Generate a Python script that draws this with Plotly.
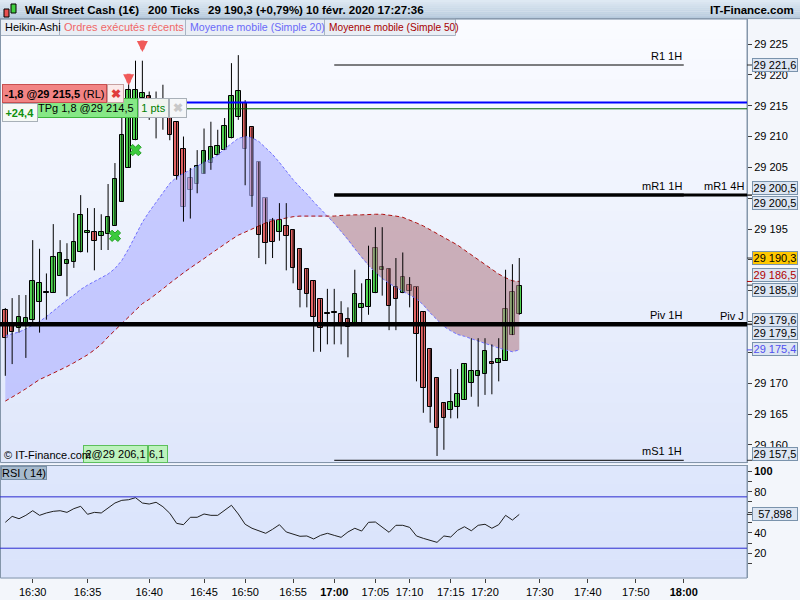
import plotly.graph_objects as go

# ---------------- data ----------------
time_tickvals = [4, 12, 21, 29, 35, 42, 48, 54, 59, 65, 70, 78, 85, 92, 99]
time_ticktext = ["16:30", "16:35", "16:40", "16:45", "16:50", "16:55", "<b>17:00</b>", "17:05",
                 "17:10", "17:15", "17:20", "17:30", "17:40", "17:50", "<b>18:00</b>"]

ha_open = [29181.9, 29179.2, 29178.9, 29179.8, 29180.3, 29183.2, 29184.7, 29184.7, 29187.4, 29189.3,
           29189.6, 29191.2, 29194.3, 29194.5, 29193.8, 29194.2, 29195.5, 29199.4, 29204.9, 29209.4,
           29216.2, 29216.5, 29215.5, 29214.5, 29213.2, 29212.4, 29208.0, 29203.2, 29202.3, 29204.0,
           29205.7, 29207.0, 29207.8, 29209.7, 29213.1, 29215.4, 29211.5, 29205.9, 29200.0, 29196.4,
           29194.6, 29195.5, 29194.9, 29191.7, 29188.5, 29186.6, 29183.6, 29181.2, 29181.4, 29181.3,
           29180.4, 29179.7, 29182.2, 29182.4, 29184.6, 29188.3, 29188.6, 29185.6, 29184.6, 29185.9,
           29185.6, 29181.6, 29175.5, 29170.8, 29166.8, 29165.6, 29166.2, 29167.3, 29170.1, 29171.2,
           29171.5, 29173.4, 29173.2, 29173.6, 29177.8, 29181.3]
ha_close = [29177.3, 29178.3, 29180.7, 29180.5, 29186.6, 29186.2, 29184.7, 29190.4, 29191.1, 29189.9,
            29192.9, 29197.3, 29194.7, 29193.1, 29194.5, 29196.9, 29203.1, 29210.3, 29217.6, 29217.6,
            29217.0, 29215.0, 29213.5, 29213.0, 29210.3, 29203.6, 29198.6, 29201.3, 29205.3, 29207.7,
            29208.3, 29208.5, 29211.7, 29216.5, 29217.4, 29207.9, 29200.3, 29194.0, 29192.7, 29192.9,
            29196.4, 29193.9, 29188.7, 29185.1, 29184.4, 29180.7, 29178.9, 29181.2, 29181.4, 29179.8,
            29179.1, 29184.4, 29182.8, 29186.7, 29192.0, 29188.8, 29182.6, 29183.6, 29187.2, 29185.0,
            29177.9, 29169.2, 29166.2, 29162.7, 29164.3, 29166.9, 29168.2, 29173.1, 29172.0, 29171.9,
            29175.3, 29173.1, 29174.0, 29182.0, 29184.8, 29185.8]
ha_high = [29182.2, 29183.8, 29184.3, 29184.3, 29193.2, 29191.8, 29187.8, 29195.8, 29193.2, 29192.7,
           29197.6, 29200.5, 29198.4, 29198.4, 29197.4, 29202.3, 29205.7, 29213.2, 29220.0, 29222.3,
           29222.3, 29217.3, 29217.3, 29218.4, 29214.0, 29212.4, 29210.0, 29204.9, 29207.8, 29211.3,
           29212.4, 29211.1, 29213.0, 29221.9, 29223.2, 29215.9, 29211.5, 29205.9, 29200.0, 29196.8,
           29199.2, 29199.2, 29194.9, 29191.7, 29188.5, 29186.6, 29183.6, 29185.3, 29185.3, 29183.3,
           29182.3, 29188.4, 29186.2, 29192.3, 29195.3, 29195.3, 29188.6, 29190.3, 29191.2, 29187.2,
           29185.6, 29181.6, 29175.5, 29170.8, 29166.8, 29172.3, 29172.3, 29173.1, 29177.3, 29177.3,
           29177.3, 29176.3, 29177.3, 29188.4, 29189.3, 29190.3]
ha_low = [29171.2, 29173.1, 29178.2, 29174.1, 29179.7, 29178.2, 29180.3, 29184.7, 29187.4, 29184.1,
          29188.7, 29191.2, 29191.2, 29188.3, 29191.6, 29191.6, 29195.5, 29199.4, 29204.9, 29209.4,
          29214.3, 29212.7, 29209.7, 29211.1, 29209.4, 29203.0, 29196.2, 29196.7, 29200.8, 29204.0,
          29204.6, 29207.0, 29207.8, 29209.7, 29212.7, 29202.1, 29198.6, 29190.3, 29189.3, 29190.3,
          29193.1, 29188.3, 29186.2, 29182.3, 29182.3, 29175.1, 29175.1, 29176.3, 29176.3, 29176.3,
          29174.2, 29179.7, 29179.7, 29181.1, 29184.6, 29184.2, 29178.6, 29178.6, 29184.6, 29182.3,
          29170.3, 29165.2, 29163.6, 29158.2, 29159.2, 29164.3, 29164.3, 29167.3, 29167.8, 29166.2,
          29168.1, 29168.2, 29170.3, 29173.6, 29177.8, 29181.1]

sma20 = [29177.7, 29178.0, 29178.3, 29178.8, 29179.4, 29180.0, 29180.8, 29181.7, 29182.7, 29183.5,
         29184.3, 29185.2, 29185.9, 29186.5, 29187.1, 29187.7, 29188.6, 29189.9, 29191.8, 29194.0,
         29196.1, 29197.8, 29199.3, 29200.9, 29202.4, 29203.4, 29204.0, 29204.7, 29205.2, 29205.8,
         29206.3, 29207.0, 29208.0, 29208.8, 29209.7, 29210.0, 29209.8, 29209.2, 29208.2, 29207.1,
         29205.8, 29204.4, 29203.0, 29201.8, 29200.7, 29199.4, 29198.3, 29197.1, 29195.9, 29194.6,
         29193.3, 29191.8, 29190.4, 29189.1, 29188.0, 29187.0, 29186.2, 29185.5, 29184.9, 29184.3,
         29183.7, 29182.7, 29181.4, 29180.3, 29179.2, 29178.5, 29177.9, 29177.6, 29177.2, 29176.9,
         29176.5, 29176.1, 29175.7, 29175.4, 29175.1, 29175.4]
sma50 = [29167.1, 29167.7, 29168.4, 29169.1, 29169.8, 29170.6, 29171.1, 29171.6, 29172.1, 29172.7,
         29173.3, 29173.9, 29174.6, 29175.4, 29176.3, 29177.5, 29178.6, 29179.7, 29180.7, 29181.8,
         29182.9, 29183.6, 29184.4, 29185.3, 29186.2, 29187.1, 29187.9, 29188.7, 29189.4, 29190.2,
         29191.0, 29191.8, 29192.6, 29193.3, 29194.0, 29194.5, 29195.1, 29195.6, 29196.0, 29196.35,
         29196.6, 29196.8, 29197.0, 29197.1, 29197.1, 29197.0, 29197.0, 29197.0, 29197.1, 29197.2,
         29197.3, 29197.3, 29197.3, 29197.4, 29197.4, 29197.4, 29197.3, 29197.1, 29196.9, 29196.5,
         29196.0, 29195.5, 29194.9, 29194.3, 29193.7, 29193.0, 29192.4, 29191.6, 29190.8, 29190.0,
         29189.3, 29188.5, 29187.7, 29187.1, 29186.6, 29186.5]

rsi14 = [50.2, 56.0, 53.7, 57.0, 61.5, 57.0, 59.3, 60.9, 61.5, 59.9,
         63.5, 65.8, 58.0, 59.9, 59.3, 63.8, 69.0, 71.6, 72.2, 74.2,
         69.0, 68.0, 69.7, 65.4, 59.0, 49.2, 47.9, 55.1, 55.1, 58.3,
         57.0, 57.0, 61.5, 66.8, 58.3, 48.3, 44.4, 42.0, 39.5, 43.4,
         47.9, 40.8, 38.5, 36.6, 36.9, 34.0, 37.5, 39.5, 37.5, 35.6,
         40.8, 44.4, 41.7, 50.2, 50.5, 45.5, 40.5, 47.3, 47.3, 45.3,
         36.9, 34.6, 33.0, 30.7, 36.9, 35.9, 42.4, 45.9, 42.0, 47.3,
         48.3, 44.4, 47.9, 57.0, 52.4, 57.9]

# labels hidden behind the value boxes are left blank
price_tickvals = [29160, 29165, 29170, 29175, 29180, 29185, 29190, 29195, 29200, 29205, 29210, 29215, 29220, 29225]
price_ticktext = ["29 160", "29 165", "29 170", "", "", "", "", "29 195",
                  "", "29 205", "29 210", "29 215", "29 220", "29 225"]
rsi_tickvals = [10, 20, 30, 40, 50, 60, 70, 80, 90, 100]
rsi_ticktext = ["", "20", "", "40", "", "", "", "80", "", "<b>100</b>"]
rsi_levels = [75, 25]

level_names = ["R1 1H", "mR1 1H", "mR1 4H", "Piv 1H", "Piv J", "mS1 1H"]
level_values = [29221.6, 29200.5, 29200.5, 29179.6, 29179.5, 29157.5]
order_price = 29215.5
tp_price = 29214.5

sell_idx = [18, 20]
sell_price = [29218.3, 29223.7]
exit_idx = [16, 19]
exit_price = [29193.9, 29207.8]

# axis-box labels: (text, value, pane, text colour, background, y-shift px)
axis_labels = [
    ("29 221,6", 29221.6, "y", "black", None, 0),
    ("29 200,5", 29200.5, "y", "black", None, 7.5),
    ("29 200,5", 29200.5, "y", "black", None, -7.5),
    ("29 190,3", 29190.3, "y", "black", "#FFC800", 0),
    ("29 186,5", 29186.5, "y", "#B00000", None, 6.5),
    ("29 185,9", 29185.9, "y", "black", None, -5),
    ("29 179,6", 29179.6, "y", "black", None, 3.6),
    ("29 179,5", 29179.5, "y", "black", None, -8),
    ("29 175,4", 29175.4, "y", "#5050F0", None, 1),
    ("29 157,5", 29157.5, "y", "black", None, 6.5),
    ("57,898", 57.898, "y2", "black", None, 0),
]

# ---------------- geometry helpers (style only) ----------------
W, H = 800, 600
X0_PX, DX_PX = 5.3, 6.853          # candle 0 pixel and candle spacing
PANE_R = 747
XR = [(0 - X0_PX) / DX_PX, (PANE_R - X0_PX) / DX_PX]
FONT = "Arial, Liberation Sans, sans-serif"


def px(x):
    return x / W


def py(y):
    return 1 - y / H


def blend(c0, c1, t):
    return "rgb(%d,%d,%d)" % tuple(round(a + (b - a) * t) for a, b in zip(c0, c1))


fig = go.Figure()
shapes = []
ann = []

# backgrounds (gradient bands)
n = 44
top, bot = 19, 463
for k in range(n):
    y0 = top + (bot - top) * k / n
    y1 = top + (bot - top) * (k + 1) / n + 0.6
    shapes.append(dict(type="rect", xref="paper", yref="paper", x0=0, x1=px(PANE_R),
                       y0=py(y1), y1=py(y0), line=dict(width=0),
                       fillcolor=blend((250, 251, 255), (223, 231, 251), k / (n - 1)), layer="below"))
for k in range(12):
    y0 = 465 + 113 * k / 12
    y1 = 465 + 113 * (k + 1) / 12 + 0.6
    shapes.append(dict(type="rect", xref="paper", yref="paper", x0=0, x1=px(PANE_R), y0=py(y1), y1=py(y0),
                       line=dict(width=0), fillcolor=blend((222, 231, 252), (218, 227, 251), k / 11),
                       layer="below"))
# header row gradient
for k in range(10):
    shapes.append(dict(type="rect", xref="paper", yref="paper", x0=0, x1=1,
                       y0=py(1.9 * k + 2.1), y1=py(1.9 * k), line=dict(width=0),
                       fillcolor=blend((222, 233, 243), (182, 201, 220), k / 9), layer="below"))
shapes.append(dict(type="line", xref="paper", yref="paper", x0=0, x1=1, y0=py(18.5), y1=py(18.5),
                   line=dict(color="#8C9EB2", width=1), layer="below"))
# tabs
tab_edges = [(0.5, 59.5), (59.5, 185.5), (185.5, 324.5), (324.5, 455.5)]
for a, b in tab_edges:
    shapes.append(dict(type="rect", xref="paper", yref="paper", x0=px(a), x1=px(b), y0=py(35.5), y1=py(19),
                       fillcolor="#E9EEF5", line=dict(color="#A9B5C4", width=1), layer="above"))
# pane borders
shapes.append(dict(type="rect", xref="paper", yref="paper", x0=px(0.5), x1=px(PANE_R), y0=py(462.5), y1=py(19),
                   line=dict(color="#8496AA", width=1), layer="above"))
shapes.append(dict(type="rect", xref="paper", yref="paper", x0=px(0.5), x1=px(PANE_R), y0=py(578), y1=py(465.5),
                   line=dict(color="#8496AA", width=1), layer="above"))

idx = list(range(len(ha_open)))

# MA cloud fills (split where the averages cross)
cross = 47
blue_x = idx[:cross + 1] + idx[:cross + 1][::-1]
blue_y = sma20[:cross + 1] + sma50[:cross + 1][::-1]
red_x = idx[cross:] + idx[cross:][::-1]
red_y = sma50[cross:] + sma20[cross:][::-1]
fig.add_trace(go.Scatter(x=blue_x, y=blue_y, fill="toself", fillcolor="rgba(178,182,255,0.68)",
                         line=dict(width=0), mode="lines", hoverinfo="skip", xaxis="x", yaxis="y"))
fig.add_trace(go.Scatter(x=red_x, y=red_y, fill="toself", fillcolor="rgba(180,130,140,0.6)",
                         line=dict(width=0), mode="lines", hoverinfo="skip", xaxis="x", yaxis="y"))
fig.add_trace(go.Scatter(x=idx, y=sma20, mode="lines", line=dict(color="#7070FF", width=1, dash="3px,2px"),
                         xaxis="x", yaxis="y"))
fig.add_trace(go.Scatter(x=idx, y=sma50, mode="lines", line=dict(color="#B01010", width=1, dash="4px,3px"),
                         xaxis="x", yaxis="y"))

# wicks
wx, wy = [], []
for i in idx:
    wx += [i, i, None]
    wy += [ha_low[i], ha_high[i], None]
fig.add_trace(go.Scatter(x=wx, y=wy, mode="lines", line=dict(color="black", width=1),
                         xaxis="x", yaxis="y", hoverinfo="skip"))
# bodies
base = [min(o, c) for o, c in zip(ha_open, ha_close)]
hgt = [max(abs(c - o), 0.12) for o, c in zip(ha_open, ha_close)]
cols = ["#4FD34F" if c > o else ("#E46464" if c < o else "black") for o, c in zip(ha_open, ha_close)]
fig.add_trace(go.Bar(x=idx, y=hgt, base=base, width=0.66, marker=dict(color=cols, line=dict(color="black", width=1)),
                     xaxis="x", yaxis="y"))

# executed orders
for i, p in zip(sell_idx, sell_price):
    ann.append(dict(x=i, y=p, xref="x", yref="y", text="", showarrow=True, ax=0, ay=-13,
                    arrowhead=2, arrowsize=0.55, arrowwidth=4, arrowcolor="#F05A5A", standoff=0))
fig.add_trace(go.Scatter(x=exit_idx, y=exit_price, mode="markers",
                         marker=dict(symbol="x", size=10, color="#3DCB3D", line=dict(color="#24A024", width=1)),
                         xaxis="x", yaxis="y"))

# RSI
fig.add_trace(go.Scatter(x=idx, y=rsi14, mode="lines", line=dict(color="#202020", width=1),
                         xaxis="x2", yaxis="y2"))
for lv in rsi_levels:
    shapes.append(dict(type="line", xref="paper", yref="y2", x0=0, x1=px(PANE_R), y0=lv, y1=lv,
                       line=dict(color="#2B2BD0", width=1), layer="above"))

# level lines
level_style = {
    "R1 1H": (48, 99, 1), "mR1 1H": (48, 99, 3), "mR1 4H": (48, XR[1], 3),
    "Piv 1H": (XR[0], XR[1], 4), "Piv J": (XR[0], XR[1], 4), "mS1 1H": (48, 99, 1),
}
for name, val in zip(level_names, level_values):
    a, b, w = level_style[name]
    shapes.append(dict(type="line", xref="x", yref="y", x0=a, x1=b, y0=val, y1=val,
                       line=dict(color="black", width=w), layer="above"))
    right = 99 if "1H" in name else XR[1] - 0.2
    ann.append(dict(x=right, y=val, xref="x", yref="y", text=name, showarrow=False, xanchor="right",
                    yanchor="bottom", yshift=1, font=dict(family=FONT, size=11, color="black")))
shapes.append(dict(type="line", xref="paper", yref="y", x0=px(141.7), x1=px(PANE_R), y0=order_price,
                   y1=order_price, line=dict(color="#0000FF", width=2), layer="above"))
shapes.append(dict(type="line", xref="paper", yref="y", x0=px(187), x1=px(PANE_R), y0=tp_price,
                   y1=tp_price, line=dict(color="#006000", width=1), layer="above"))


def box(x0, x1, yc, h, text, bg, border, color, size=11, align="center"):
    ann.append(dict(xref="paper", yref="paper", x=px(x0), y=py(yc), xanchor="left", yanchor="middle",
                    width=x1 - x0 - 2, height=h - 2, text=text, showarrow=False, align=align,
                    bgcolor=bg, bordercolor=border, borderwidth=1, borderpad=0,
                    font=dict(family=FONT, size=size, color=color)))


# order boxes
box(37.3, 138.3, 108.3, 20, "TPg 1,8 @29 214,5", "#86E886", "#3CB43C", "black", align="left")
box(138.3, 169.3, 108.3, 20, "1 pts", "#F0F4F0", "#A8B0B8", "#008000")
box(169.3, 187.3, 108.3, 20, "<b>✖</b>", "#F4F6F8", "#A8B0B8", "#C8C8C8", size=12)
box(1.7, 106.7, 93.8, 19, "<b>-1,8 @29 215,5</b> (RL)", "#F28484", "#C85050", "black")
box(106.7, 124, 93.8, 19, "<b>✖</b>", "#FBEAEA", "#C8A0A0", "#E03C3C", size=12)
box(1.7, 37.3, 112.5, 19, "<b>+24,4</b>", "#F6F9F6", "#A8B0B8", "#109010")
box(83.3, 148.3, 454, 18, "2@29 206,1", "#BDF2BD", "#5CC05C", "black")
box(148.3, 168.3, 454, 18, "6,1", "#BDF2BD", "#5CC05C", "black", align="left")
ann.append(dict(xref="paper", yref="paper", x=px(2), y=py(455), xanchor="left", yanchor="middle",
                text="© IT-Finance.com", showarrow=False, font=dict(family=FONT, size=11, color="black")))
box(1, 47, 472.5, 14, "RSI ( 14)", "#A6BACD", "#7890A8", "black")

# axis value boxes
for text, val, yr, col, bg, ys in axis_labels:
    ann.append(dict(xref="paper", yref=yr, x=px(752), y=val, xanchor="left", yanchor="middle", yshift=ys,
                    text=text, showarrow=False, bgcolor=bg or "#DCE5F2", bordercolor="#7A93AC",
                    borderwidth=1, borderpad=0, width=44, height=12,
                    font=dict(family=FONT, size=11, color=col)))
    shapes.append(dict(type="line", xref="paper", yref=yr, x0=px(PANE_R), x1=px(752), y0=val, y1=val,
                       line=dict(color=col if col != "black" else "#303030", width=1), layer="above"))

# header
hdr = [(23, "<b>Wall Street Cash (1€)</b>"), (146, "<b>200 Ticks</b>"),
       (206, "<b>29 190,3 (+0,79%)</b>"), (304, "<b>10 févr. 2020 17:27:36</b>")]
for x, t in hdr:
    ann.append(dict(xref="paper", yref="paper", x=px(x), y=py(10), xanchor="left", yanchor="middle",
                    text=t, showarrow=False, font=dict(family=FONT, size=11.5, color="black")))
ann.append(dict(xref="paper", yref="paper", x=px(796), y=py(10), xanchor="right", yanchor="middle",
                text="<b>IT-Finance.com</b>", showarrow=False, font=dict(family=FONT, size=11.5, color="black")))
shapes.append(dict(type="rect", xref="paper", yref="paper", x0=px(4), x1=px(9), y0=py(17), y1=py(9),
                   fillcolor="#E85050", line=dict(color="black", width=1)))
shapes.append(dict(type="rect", xref="paper", yref="paper", x0=px(11), x1=px(16), y0=py(13), y1=py(4),
                   fillcolor="#40D040", line=dict(color="black", width=1)))
tabs = [(3, "Heikin-Ashi", "black", 11), (62, "Ordres exécutés récents", "#F06868", 11),
        (188, "Moyenne mobile (Simple 20)", "#6A6AF8", 10.6), (327, "Moyenne mobile (Simple 50)", "#A80000", 10.2)]
for x, t, c, s in tabs:
    ann.append(dict(xref="paper", yref="paper", x=px(x), y=py(27), xanchor="left", yanchor="middle",
                    text=t, showarrow=False, font=dict(family=FONT, size=s, color=c)))

axis_common = dict(showgrid=False, zeroline=False)
fig.update_layout(
    width=W, height=H, margin=dict(l=0, r=0, t=0, b=0), showlegend=False,
    paper_bgcolor="#F3F6FB", plot_bgcolor="rgba(0,0,0,0)", bargap=0,
    xaxis=dict(domain=[0, px(PANE_R)], range=XR, showticklabels=False, ticks="", anchor="y", **axis_common),
    yaxis=dict(domain=[py(463), py(19)], range=[29157.06, 29229.06], side="right", anchor="x",
               tickvals=price_tickvals, ticktext=price_ticktext, ticks="outside", ticklen=4,
               tickcolor="#404040", showline=True, linecolor="#8496AA",
               tickfont=dict(family=FONT, size=11, color="black"), **axis_common),
    xaxis2=dict(domain=[0, px(PANE_R)], range=XR, anchor="y2", tickvals=time_tickvals, ticktext=time_ticktext,
                ticks="outside", ticklen=4, tickcolor="#404040",
                tickfont=dict(family=FONT, size=11, color="black"), **axis_common),
    yaxis2=dict(domain=[py(578), py(465)], range=[-4.0, 106.0], side="right", anchor="x2",
                tickvals=rsi_tickvals, ticktext=rsi_ticktext, ticks="outside", ticklen=4,
                tickcolor="#404040", showline=True, linecolor="#8496AA",
                tickfont=dict(family=FONT, size=11, color="black"), **axis_common),
    shapes=shapes, annotations=ann,
)
fig.write_html("out.html", config={"displayModeBar": False},
               post_script="document.body.style.margin='0';document.body.style.overflow='hidden';")
